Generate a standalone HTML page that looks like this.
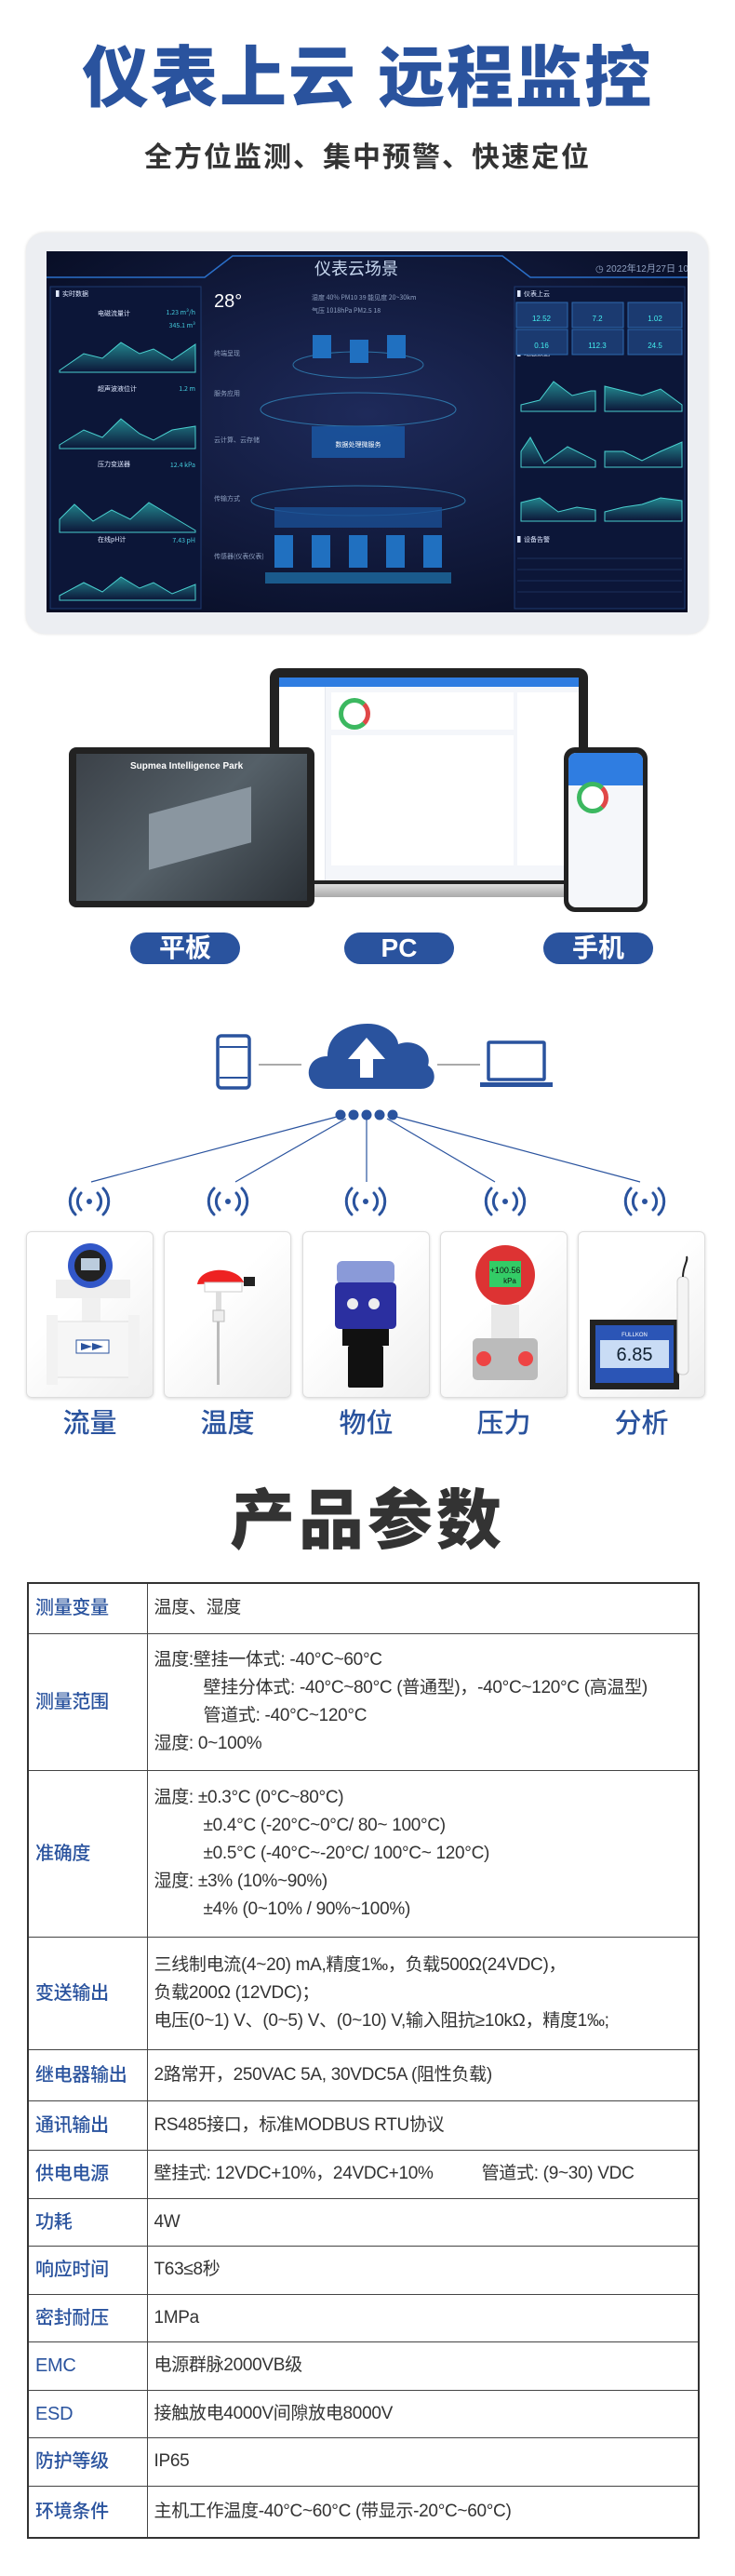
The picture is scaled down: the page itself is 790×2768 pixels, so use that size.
<!DOCTYPE html>
<html><head><meta charset="utf-8">
<style>
*{margin:0;padding:0;box-sizing:border-box}
body{width:790px;height:2768px;background:#fff;position:relative;overflow:hidden;font-family:"Liberation Sans","Noto Sans CJK SC",sans-serif}
.a{position:absolute}
.title{left:0;width:790px;text-align:center;top:42px;font-size:72px;font-weight:900;color:#2a539e;line-height:86px;letter-spacing:2px}
.sub{left:0;width:790px;text-align:center;top:150px;font-size:30px;font-weight:700;color:#333;line-height:40px;letter-spacing:2px}
.pill{background:#2a539e;color:#fff;border-radius:17px;height:34px;top:1002px;width:118px;text-align:center;font-size:28px;font-weight:700;line-height:34px}
.box{top:1323px;width:137px;height:179px;border:1px solid #ddd;border-radius:6px;background:linear-gradient(135deg,#fff 40%,#eee);box-shadow:0 1px 3px rgba(0,0,0,.15)}
.lab{top:1510px;width:137px;text-align:center;font-size:29px;color:#2a539e;font-weight:500;line-height:40px}
.big{left:0;width:790px;text-align:center;top:1592px;font-size:70px;font-weight:900;color:#333;line-height:84px;letter-spacing:4px}
table{position:absolute;left:29px;top:1700px;width:723px;border-collapse:collapse;border:2px solid #333}
td{border:1.5px solid #444;font-size:19px;color:#333;line-height:30px;vertical-align:middle;white-space:nowrap;letter-spacing:-0.3px}
td.k{width:128px;color:#2a539e;padding-left:7px;font-weight:500;font-size:20px}
td.v{padding-left:7px}
.in{padding-left:53px}
</style></head><body>
<div class="a title">仪表上云 远程监控</div>
<div class="a sub">全方位监测、集中预警、快速定位</div>

<!-- monitor -->
<div class="a" style="left:28px;top:250px;width:733px;height:431px;background:#eceef2;border-radius:20px;box-shadow:0 0 3px rgba(0,0,0,.15)"></div>
<svg class="a" style="left:50px;top:270px" width="689" height="388" viewBox="0 0 689 388">
<defs><radialGradient id="bg" cx="50%" cy="45%" r="70%"><stop offset="0" stop-color="#1e2a5a"/><stop offset="1" stop-color="#070d24"/></radialGradient>
<linearGradient id="ch" x1="0" y1="0" x2="0" y2="1"><stop offset="0" stop-color="#2bb3b0" stop-opacity=".7"/><stop offset="1" stop-color="#2bb3b0" stop-opacity="0"/></linearGradient></defs>
<rect width="689" height="388" fill="url(#bg)"/>
<path d="M0 28 H170 L200 5 H490 L520 28 H689" stroke="#2a6fc9" stroke-width="1.5" fill="none"/>
<text x="333" y="25" font-size="18" fill="#c8d8f0" text-anchor="middle" font-family="Noto Sans CJK SC">仪表云场景</text>
<text x="590" y="22" font-size="10" fill="#8fa0c0" font-family="Liberation Sans,Noto Sans CJK SC">◷ 2022年12月27日 10:58:42</text>
<g fill="#0c1638" stroke="#1e3a70"><rect x="4" y="38" width="162" height="346"/><rect x="503" y="38" width="183" height="346"/></g>
<g font-size="7" fill="#dfe8ff" font-family="Noto Sans CJK SC">
<text x="10" y="48">▌实时数据</text><text x="506" y="48">▌仪表上云</text>
<text x="55" y="69">电磁流量计</text><text x="55" y="150">超声波液位计</text><text x="55" y="231">压力变送器</text><text x="55" y="312">在线pH计</text>
<text x="160" y="68" text-anchor="end" fill="#4cd">1.23 m³/h</text><text x="160" y="82" text-anchor="end" fill="#4cd">345.1 m³</text>
<text x="160" y="150" text-anchor="end" fill="#4cd">1.2 m</text><text x="160" y="232" text-anchor="end" fill="#4cd">12.4 kPa</text><text x="160" y="313" text-anchor="end" fill="#4cd">7.43 pH</text>
<text x="506" y="112">▌动态数据</text><text x="506" y="312">▌设备告警</text>
</g>
<g fill="url(#ch)" stroke="#4ad0d0" stroke-width="1">
<path d="M14 128 L40 110 L60 115 L80 98 L100 110 L115 105 L135 117 L160 100 V130 H14Z"/>
<path d="M14 208 L40 192 L60 200 L80 180 L100 196 L115 203 L135 192 L160 188 V212 H14Z"/>
<path d="M14 288 L30 272 L50 290 L70 278 L90 288 L110 270 L135 285 L160 300 V302 H14Z"/>
<path d="M14 370 L40 356 L60 366 L80 350 L100 362 L115 356 L135 368 L160 358 V375 H14Z"/>
<path d="M510 165 L530 160 L545 140 L565 155 L585 150 L590 150 V172 H510Z"/>
<path d="M600 145 L620 150 L640 155 L660 148 L683 165 V172 H600Z"/>
<path d="M510 215 L520 200 L535 228 L560 210 L590 225 V232 H510Z"/>
<path d="M600 215 L620 215 L640 225 L660 215 L683 205 V232 H600Z"/>
<path d="M510 270 L530 265 L550 280 L570 275 L590 278 V290 H510Z"/>
<path d="M600 280 L620 275 L640 272 L660 265 L683 268 V290 H600Z"/>
</g>
<g fill="#1b3a70" stroke="#2e6ab0"><rect x="505" y="55" width="55" height="27"/><rect x="565" y="55" width="55" height="27"/><rect x="625" y="55" width="58" height="27"/><rect x="505" y="84" width="55" height="27"/><rect x="565" y="84" width="55" height="27"/><rect x="625" y="84" width="58" height="27"/></g>
<g font-size="8" fill="#4ee" text-anchor="middle"><text x="532" y="75">12.52</text><text x="592" y="75">7.2</text><text x="654" y="75">1.02</text><text x="532" y="104">0.16</text><text x="592" y="104">112.3</text><text x="654" y="104">24.5</text></g>
<g stroke="#2a4a80" stroke-width=".5"><line x1="506" y1="330" x2="683" y2="330"/><line x1="506" y1="342" x2="683" y2="342"/><line x1="506" y1="354" x2="683" y2="354"/><line x1="506" y1="366" x2="683" y2="366"/></g>
<text x="180" y="60" font-size="20" fill="#fff">28°</text>
<g font-size="7" fill="#8fa0c0" font-family="Noto Sans CJK SC"><text x="285" y="52">湿度 40%   PM10 39   能见度 20~30km</text><text x="285" y="66">气压 1018hPa   PM2.5 18</text>
<text x="180" y="112">终端呈现</text><text x="180" y="155">服务应用</text><text x="180" y="205">云计算、云存储</text><text x="180" y="268">传输方式</text><text x="180" y="330">传感器(仪表仪表)</text></g>
<g fill="none" stroke="#3aa6e0" stroke-opacity=".6"><ellipse cx="335" cy="122" rx="70" ry="14"/><ellipse cx="335" cy="170" rx="105" ry="18"/><ellipse cx="335" cy="268" rx="115" ry="16"/></g>
<rect x="285" y="188" width="100" height="34" fill="#1a5aa8" opacity=".8"/>
<text x="335" y="210" font-size="7" fill="#fff" text-anchor="middle" font-family="Noto Sans CJK SC">数据处理微服务</text>
<rect x="245" y="275" width="180" height="22" fill="#1a4f94" opacity=".8"/>
<rect x="235" y="345" width="200" height="12" fill="#1a5a8c"/>
<g fill="#2070c0"><rect x="245" y="305" width="20" height="35"/><rect x="285" y="305" width="20" height="35"/><rect x="325" y="305" width="20" height="35"/><rect x="365" y="305" width="20" height="35"/><rect x="405" y="305" width="20" height="35"/>
<rect x="286" y="90" width="20" height="25"/><rect x="326" y="95" width="20" height="25"/><rect x="366" y="90" width="20" height="25"/></g>
</svg>

<!-- devices -->
<div class="a" style="left:290px;top:718px;width:342px;height:236px;background:#222;border-radius:10px"></div>
<div class="a" style="left:300px;top:728px;width:322px;height:218px;background:#f4f6fa"></div>
<div class="a" style="left:300px;top:728px;width:322px;height:10px;background:#2f7de1"></div>
<div class="a" style="left:300px;top:738px;width:50px;height:208px;background:#fff;border-right:1px solid #e4e8ee"></div>
<div class="a" style="left:356px;top:744px;width:196px;height:40px;background:#fff"></div>
<div class="a" style="left:364px;top:750px;width:34px;height:34px;border-radius:50%;border:5px solid #3cb860;border-right-color:#e04848"></div>
<div class="a" style="left:356px;top:790px;width:196px;height:140px;background:#fff"></div>
<div class="a" style="left:556px;top:744px;width:66px;height:186px;background:#fff"></div>
<div class="a" style="left:273px;top:950px;width:376px;height:14px;background:linear-gradient(#ddd,#aaa);border-radius:0 0 10px 10px"></div>
<div class="a" style="left:74px;top:803px;width:264px;height:172px;background:#222;border-radius:8px"></div>
<div class="a" style="left:82px;top:810px;width:248px;height:158px;background:linear-gradient(135deg,#3b4148,#556068 50%,#2c3238)"></div>
<div class="a" style="left:140px;top:818px;font-size:10px;font-weight:700;color:#fff">Supmea Intelligence Park</div>
<div class="a" style="left:160px;top:860px;width:110px;height:60px;background:#8a96a0;transform:skewY(-15deg)"></div>
<div class="a" style="left:606px;top:803px;width:90px;height:177px;background:#222;border-radius:12px"></div>
<div class="a" style="left:611px;top:809px;width:80px;height:166px;background:#f5f7fa;border-radius:8px"></div>
<div class="a" style="left:611px;top:809px;width:80px;height:35px;background:#2f7de1;border-radius:8px 8px 0 0"></div>
<div class="a" style="left:620px;top:840px;width:34px;height:34px;border-radius:50%;border:5px solid #3cb860;border-right-color:#e04848;background:#fff"></div>
<div class="a pill" style="left:140px">平板</div>
<div class="a pill" style="left:370px">PC</div>
<div class="a pill" style="left:584px">手机</div>

<!-- network -->
<svg class="a" style="left:0;top:1080px" width="790" height="240" viewBox="0 1080 790 240">
<g fill="none" stroke="#2a539e" stroke-width="3.5"><rect x="234" y="1113" width="34" height="56" rx="4"/><line x1="236" y1="1125" x2="266" y2="1125" stroke-width="2"/><line x1="236" y1="1158" x2="266" y2="1158" stroke-width="2"/>
<rect x="525" y="1120" width="60" height="40" rx="1"/></g>
<rect x="516" y="1163" width="78" height="5" fill="#2a539e"/>
<g stroke="#555" stroke-width="1"><line x1="278" y1="1144" x2="324" y2="1144"/><line x1="470" y1="1144" x2="516" y2="1144"/></g>
<path d="M352 1170 C325 1170 325 1135 352 1135 C352 1110 375 1100 395 1100 C418 1100 428 1115 428 1122 C445 1115 465 1128 460 1145 C470 1150 470 1170 452 1170 Z" fill="#2a539e"/>
<path d="M394 1115 L374 1138 H387 V1158 H401 V1138 H414 Z" fill="#fff"/>
<g fill="#2a539e"><circle cx="366" cy="1198" r="5.5"/><circle cx="380" cy="1198" r="5.5"/><circle cx="394" cy="1198" r="5.5"/><circle cx="408" cy="1198" r="5.5"/><circle cx="422" cy="1198" r="5.5"/></g>
<g stroke="#2a539e" stroke-width="1.2"><line x1="362" y1="1200" x2="98" y2="1270"/><line x1="372" y1="1202" x2="253" y2="1270"/><line x1="394" y1="1203" x2="394" y2="1270"/><line x1="416" y1="1202" x2="532" y2="1270"/><line x1="426" y1="1200" x2="688" y2="1270"/></g>
<g fill="none" stroke="#2a539e" stroke-width="3" stroke-linecap="round">
<g transform="translate(96,1291)"><circle r="3" fill="#2a539e" stroke="none"/><path d="M-9 -9 A13 13 0 0 0 -9 9 M9 -9 A13 13 0 0 1 9 9 M-15 -14 A20 20 0 0 0 -15 14 M15 -14 A20 20 0 0 1 15 14"/></g>
<g transform="translate(245,1291)"><circle r="3" fill="#2a539e" stroke="none"/><path d="M-9 -9 A13 13 0 0 0 -9 9 M9 -9 A13 13 0 0 1 9 9 M-15 -14 A20 20 0 0 0 -15 14 M15 -14 A20 20 0 0 1 15 14"/></g>
<g transform="translate(393,1291)"><circle r="3" fill="#2a539e" stroke="none"/><path d="M-9 -9 A13 13 0 0 0 -9 9 M9 -9 A13 13 0 0 1 9 9 M-15 -14 A20 20 0 0 0 -15 14 M15 -14 A20 20 0 0 1 15 14"/></g>
<g transform="translate(543,1291)"><circle r="3" fill="#2a539e" stroke="none"/><path d="M-9 -9 A13 13 0 0 0 -9 9 M9 -9 A13 13 0 0 1 9 9 M-15 -14 A20 20 0 0 0 -15 14 M15 -14 A20 20 0 0 1 15 14"/></g>
<g transform="translate(693,1291)"><circle r="3" fill="#2a539e" stroke="none"/><path d="M-9 -9 A13 13 0 0 0 -9 9 M9 -9 A13 13 0 0 1 9 9 M-15 -14 A20 20 0 0 0 -15 14 M15 -14 A20 20 0 0 1 15 14"/></g>
</g>
</svg>

<div class="a box" style="left:28px"></div><div class="a box" style="left:176px"></div><div class="a box" style="left:325px"></div><div class="a box" style="left:473px"></div><div class="a box" style="left:621px"></div>
<svg class="a" style="left:0;top:1323px" width="790" height="180" viewBox="0 1323 790 180">
<!-- flow -->
<rect x="60" y="1375" width="80" height="20" fill="#eee"/><rect x="88" y="1395" width="20" height="25" fill="#f0f0f0"/>
<circle cx="97" cy="1360" r="24" fill="#3257c8"/><circle cx="97" cy="1360" r="17" fill="#222"/><rect x="87" y="1352" width="20" height="13" fill="#bcd"/>
<rect x="55" y="1420" width="90" height="60" fill="#f6f6f6" stroke="#ddd"/><rect x="50" y="1413" width="12" height="75" fill="#f2f2f2"/><rect x="138" y="1413" width="12" height="75" fill="#f2f2f2"/>
<rect x="82" y="1440" width="35" height="14" fill="#fff" stroke="#2a539e"/><path d="M87 1443 L99 1447 L87 1451Z M99 1443 L111 1447 L99 1451Z" fill="#2a539e"/>
<!-- temp -->
<path d="M212 1380 C215 1360 255 1360 262 1378 Z" fill="#e22"/><rect x="220" y="1378" width="40" height="10" fill="#fff" stroke="#ccc"/><rect x="262" y="1372" width="12" height="10" fill="#222"/>
<rect x="232" y="1388" width="6" height="20" fill="#ddd"/><rect x="229" y="1408" width="12" height="12" fill="#eee" stroke="#bbb"/><rect x="233" y="1420" width="3" height="68" fill="#bbb"/>
<!-- level -->
<rect x="362" y="1355" width="62" height="25" rx="6" fill="#8a9ad8"/><rect x="360" y="1378" width="66" height="50" rx="5" fill="#2b2fa0"/>
<circle cx="379" cy="1401" r="6" fill="#eee"/><circle cx="402" cy="1401" r="6" fill="#eee"/>
<rect x="368" y="1428" width="50" height="18" fill="#111"/><rect x="374" y="1446" width="38" height="45" rx="2" fill="#111"/>
<!-- pressure -->
<circle cx="543" cy="1370" r="32" fill="#d33"/><rect x="526" y="1355" width="34" height="28" fill="#3c6"/><text x="543" y="1368" font-size="9" text-anchor="middle" fill="#111">+100.56</text><text x="548" y="1379" font-size="8" text-anchor="middle" fill="#111">kPa</text>
<rect x="528" y="1402" width="30" height="36" fill="#e8e8e8"/><rect x="508" y="1438" width="70" height="45" rx="5" fill="#bbb"/>
<circle cx="520" cy="1460" r="8" fill="#e44"/><circle cx="565" cy="1460" r="8" fill="#e44"/>
<!-- analysis -->
<rect x="634" y="1418" width="96" height="75" fill="#222"/><rect x="640" y="1424" width="84" height="62" fill="#2b55b6"/><rect x="645" y="1440" width="74" height="30" fill="#c9dcf5"/>
<text x="682" y="1462" font-size="20" text-anchor="middle" fill="#123">6.85</text><text x="682" y="1436" font-size="6" text-anchor="middle" fill="#fff">FULLKON</text>
<rect x="728" y="1372" width="12" height="105" rx="5" fill="#f4f4f4" stroke="#ccc"/><path d="M734 1372 C734 1360 740 1355 738 1350" stroke="#222" stroke-width="2" fill="none"/>
</svg>
<div class="a lab" style="left:28px">流量</div><div class="a lab" style="left:176px">温度</div><div class="a lab" style="left:325px">物位</div><div class="a lab" style="left:473px">压力</div><div class="a lab" style="left:621px">分析</div>

<div class="a big">产品参数</div>

<table>
<tr style="height:54px"><td class="k">测量变量</td><td class="v">温度、湿度</td></tr>
<tr style="height:147px"><td class="k">测量范围</td><td class="v">温度:壁挂一体式: -40°C~60°C<br><span class="in"></span>壁挂分体式: -40°C~80°C (普通型)，-40°C~120°C (高温型)<br><span class="in"></span>管道式: -40°C~120°C<br>湿度: 0~100%</td></tr>
<tr style="height:179px"><td class="k">准确度</td><td class="v">温度: ±0.3°C (0°C~80°C)<br><span class="in"></span>±0.4°C (-20°C~0°C/ 80~ 100°C)<br><span class="in"></span>±0.5°C (-40°C~-20°C/ 100°C~ 120°C)<br>湿度: ±3% (10%~90%)<br><span class="in"></span>±4% (0~10% / 90%~100%)</td></tr>
<tr style="height:121px"><td class="k">变送输出</td><td class="v">三线制电流(4~20) mA,精度1‰，负载500Ω(24VDC)，<br>负载200Ω (12VDC)；<br>电压(0~1) V、(0~5) V、(0~10) V,输入阻抗≥10kΩ，精度1‰;</td></tr>
<tr style="height:55px"><td class="k">继电器输出</td><td class="v">2路常开，250VAC 5A, 30VDC5A (阻性负载)</td></tr>
<tr style="height:53px"><td class="k">通讯输出</td><td class="v">RS485接口，标准MODBUS RTU协议</td></tr>
<tr style="height:52px"><td class="k">供电电源</td><td class="v">壁挂式: 12VDC+10%，24VDC+10%<span style="padding-left:52px"></span>管道式: (9~30) VDC</td></tr>
<tr style="height:51px"><td class="k">功耗</td><td class="v">4W</td></tr>
<tr style="height:52px"><td class="k">响应时间</td><td class="v">T63≤8秒</td></tr>
<tr style="height:51px"><td class="k">密封耐压</td><td class="v">1MPa</td></tr>
<tr style="height:52px"><td class="k">EMC</td><td class="v">电源群脉2000VB级</td></tr>
<tr style="height:51px"><td class="k">ESD</td><td class="v">接触放电4000V间隙放电8000V</td></tr>
<tr style="height:52px"><td class="k">防护等级</td><td class="v">IP65</td></tr>
<tr style="height:56px"><td class="k">环境条件</td><td class="v">主机工作温度-40°C~60°C (带显示-20°C~60°C)</td></tr>
</table>
</body></html>
